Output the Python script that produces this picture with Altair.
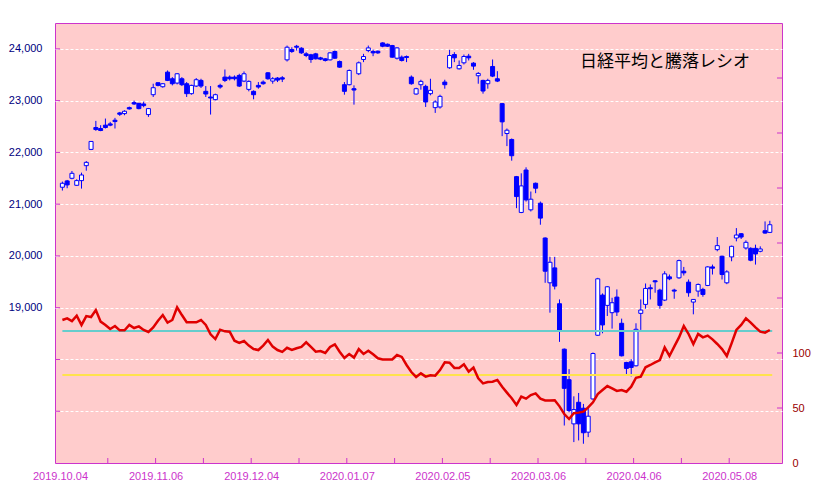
import altair as alt
import pandas as pd

# ---- Nikkei 225 daily OHLC (index 0 = 2019.10.04) ----
opens = [21327,21449,21500,21365,21455,21744,22058,22481,22462,22526,
         22551,22622,22763,22750,22865,22962,22949,22936,22731,23115,
         23346,23269,23551,23423,23340,23423,23327,23135,23282,23391,
         23180,23070,23019,23295,23455,23455,23455,23487,23378,23218,
         23180,23295,23359,23538,23378,23436,23442,23788,23987,24051,
         24013,23904,23885,23904,23827,23808,23788,23949,23756,23308,
         23308,23231,23519,23795,23968,23949,23955,24115,24090,24064,
         23820,23840,23852,23455,23128,23308,23276,23135,22865,22878,
         23359,23635,23891,23615,23731,23859,23724,23481,23391,23327,
         23660,23423,22942,22365,22250,21532,20840,21660,20891,21404,
         21019,20346,19481,19769,19077,18199,17609,16756,17173,17058,
         16596,17237,18468,19244,19045,18904,19205,18699,17942,17955,
         17878,18891,19064,19385,19520,19340,19147,19596,19340,19577,
         19705,19494,19109,19321,19353,19430,19788,20122,19994,19481,
         19981,20346,20429,20154,20147,20147,20090,20487,20455]
highs = [21436,21468,21641,21481,21609,21833,22218,22609,22526,22654,
         22590,22667,22782,22814,22885,23000,22955,22981,22859,23327,
         23352,23340,23583,23455,23532,23455,23359,23308,23436,23423,
         23282,23282,23135,23327,23602,23487,23487,23519,23564,23391,
         23199,23359,23391,23551,23455,23455,23474,24064,24032,24077,
         24032,23936,23904,23923,23846,23820,23936,23968,23776,23359,
         23602,23295,23756,23904,24064,23987,23968,24128,24103,24077,
         24032,23872,23872,23487,23250,23404,23308,23423,23006,23115,
         23404,23981,23936,23776,23891,23904,23744,23551,23404,23423,
         23795,23570,22955,22462,22269,21545,21596,21712,21244,21417,
         21051,20359,19981,19981,19160,18212,17814,17288,17353,17141,
         17096,18135,19577,19276,19417,19192,19353,18789,17955,18006,
         18699,19160,19468,19449,19530,19366,19705,19641,19366,19929,
         19788,19545,19165,19468,19385,19801,19833,20365,20006,19724,
         20199,20538,20442,20301,20167,20218,20186,20667,20679]
lows = [21263,21308,21481,21353,21301,21647,22045,22417,22410,22462,
        22506,22462,22705,22718,22827,22917,22833,22872,22686,23070,
        23276,23250,23378,23295,23314,23282,23071,23115,23263,23244,
        23071,22731,23006,23231,23359,23391,23391,23263,23359,23180,
        23026,23231,23308,23404,23327,23359,23359,23756,23923,23968,
        23904,23840,23731,23795,23782,23756,23776,23808,23635,23115,
        23295,22923,23494,23744,23936,23859,23904,24032,24039,23827,
        23795,23756,23744,23308,23115,23212,22878,23103,22763,22846,
        23231,23615,23744,23602,23699,23776,23596,23327,23135,23231,
        23455,23359,22314,22122,21840,20923,20827,21051,20859,21212,
        20603,19481,18904,19353,18340,16724,16981,16404,16436,16372,
        16500,17224,18455,18506,18840,18596,18840,18058,17718,17673,
        17865,18571,18981,19160,19289,18981,19128,19532,19173,19558,
        19622,19212,18872,19212,19212,19417,19641,20090,19545,19455,
        19897,20282,20327,20122,19897,19833,20071,20429,20442]
closes = [21404,21372,21596,21455,21564,21808,22212,22442,22423,22481,
          22526,22596,22737,22795,22840,22936,22846,22904,22846,23250,
          23295,23327,23391,23327,23519,23308,23135,23295,23404,23282,
          23128,23051,23115,23263,23391,23423,23423,23282,23519,23372,
          23115,23263,23327,23423,23423,23397,23416,24032,23949,24032,
          23923,23872,23795,23808,23801,23776,23923,23820,23647,23180,
          23583,23205,23731,23852,24019,23923,23923,24051,24051,23840,
          24019,23776,23833,23327,23231,23372,22974,23199,22974,23083,
          23308,23872,23827,23679,23853,23827,23667,23526,23186,23391,
          23474,23378,22590,22429,21936,21147,21353,21083,21096,21308,
          20731,19705,19878,19417,18564,17442,17013,17032,16756,16584,
          16904,18115,19558,18667,19404,19096,18917,18071,17827,17846,
          18583,18955,19372,19366,19500,19045,19654,19558,19321,19910,
          19673,19289,19160,19449,19256,19788,19763,20199,19641,19692,
          20186,20404,20365,20263,19917,20038,20135,20442,20603]

# ---- 騰落レシオ (right axis) ----
ratio = [130,131.5,129,134,125.5,133.6,132.7,139,128.5,125.5,
         121.8,124.5,120.6,120.6,125.5,122.7,124.2,120.9,119.1,123.3,
         129.4,134.5,127.6,130,141.5,134.5,127.9,127.9,127.9,130,
         125.5,117,112.7,121.2,119.7,119.4,111.2,109.1,110.9,106.7,
         103.6,102.7,106.7,111.8,105.8,102.7,101,104.7,102.8,104.3,
         105.6,109.7,105.5,101.2,101.8,100,105.5,107.9,101.2,95.5,
         99.1,95.8,103.6,99.1,102.1,98.8,95.2,94.2,94.2,94.2,
         98.2,96.4,89.1,82.7,78.2,81.5,78.5,79.7,79.4,84.5,
         91.5,91.2,86.4,86.4,89.7,83,86.7,77,72.4,73.6,
         73.9,75.5,69.4,64,58.8,52.7,60.3,58.5,61.8,63.3,
         58.5,56.8,56.8,57,51.5,44.5,40,45.2,45.8,46.7,
         50.6,55.2,62.7,66.4,70,67.9,65.5,66.4,64.8,69.4,
         77.5,78.5,87,89.1,91.5,93.6,105.1,97.3,105.8,114.2,
         124.5,117.3,108.2,117.3,114.2,115.8,112.4,108.2,103.6,97.3,
         108.8,120.9,125.5,131.5,127.6,123.3,119.4,118.5,120.9]

tick_idx = [10, 20, 30, 40, 50, 60, 70, 80, 90, 100, 110, 120, 130, 140]
label_idx = [0, 20, 40, 60, 80, 100, 120, 140]
label_text = ['2019.10.04', '2019.11.06', '2019.12.04', '2020.01.07',
              '2020.02.05', '2020.03.06', '2020.04.06', '2020.05.08']
price_ticks = [17000, 18000, 19000, 20000, 21000, 22000, 23000, 24000]
ratio_ticks = [0, 50, 100, 150, 200, 250, 300, 350]
ref_levels = [120, 80]
ref_colors = ['#66CCCC', '#FFE24D']
title_text = '日経平均と騰落レシオ'

W, H = 727, 440
n = len(closes)
MAG = '#CC33CC'
BLUE = '#0000FF'

df = pd.DataFrame({
    'x': [i + 0.5 for i in range(n)],
    'open': opens, 'high': highs, 'low': lows, 'close': closes,
    'ratio': ratio,
})
df['dir'] = ['up' if c >= o else 'down' for o, c in zip(opens, closes)]

label_expr = "''"
for i, t in reversed(list(zip(label_idx, label_text))):
    label_expr = f"datum.value == {i} ? '{t}' : ({label_expr})"

xscale = alt.Scale(domain=[0, 150], nice=False, zero=False)
xaxis = alt.Axis(values=label_idx, labelExpr=label_expr, domain=False, ticks=False,
                 tickSize=0, grid=False, labelColor=MAG, labelFontSize=11,
                 labelPadding=7, title=None, labelFlush=False)
X = alt.X('x:Q', scale=xscale, axis=xaxis)

price_scale = alt.Scale(domain=[16000, 24500], nice=False, zero=False)
price_axis = alt.Axis(values=price_ticks, orient='left',
                      labelExpr="datum.value >= 19000 ? format(datum.value, ',') : ''",
                      grid=True, gridColor='#FFFFFF', gridDash=[3, 2], gridWidth=1,
                      domain=False, ticks=False, tickSize=0, labelColor='#000080',
                      labelFontSize=11, labelPadding=13, title=None)

ratio_scale = alt.Scale(domain=[0, 400], nice=False, zero=True)
ratio_axis = alt.Axis(values=ratio_ticks, orient='right',
                      labelExpr="datum.value <= 100 ? datum.label : ''",
                      grid=False, domain=False, ticks=False, tickSize=0,
                      labelColor='#990000', labelFontSize=11, labelPadding=10, title=None)

wick = alt.Chart(df).mark_rule(color=BLUE, strokeWidth=1).encode(
    x=X, y=alt.Y('low:Q', scale=price_scale, axis=price_axis), y2='high:Q')
body = alt.Chart(df).mark_bar(size=4, stroke=BLUE, strokeWidth=1).encode(
    x=X, y=alt.Y('open:Q', scale=price_scale, axis=price_axis), y2='close:Q',
    fill=alt.Fill('dir:N', scale=alt.Scale(domain=['up', 'down'], range=['#FFFFFF', BLUE]),
                  legend=None))

xt = alt.Chart(pd.DataFrame({'t': tick_idx})).mark_rule(color=MAG, strokeWidth=1).encode(
    x=alt.X('t:Q', scale=xscale, axis=xaxis), y=alt.value(H - 5), y2=alt.value(H))
lt = alt.Chart(pd.DataFrame({'v': price_ticks})).mark_rule(color=MAG, strokeWidth=1).encode(
    y=alt.Y('v:Q', scale=price_scale, axis=price_axis), x=alt.value(0), x2=alt.value(5))

price_layer = alt.layer(wick, body, xt, lt)

ref_df = pd.DataFrame({'level': ref_levels, 'color': ref_colors,
                       'x0': [df['x'].iloc[0]] * len(ref_levels),
                       'x1': [df['x'].iloc[-1] + 0.5] * len(ref_levels)})
refs = alt.Chart(ref_df).mark_rule(strokeWidth=2).encode(
    x=alt.X('x0:Q', scale=xscale, axis=xaxis), x2='x1:Q',
    y=alt.Y('level:Q', scale=ratio_scale, axis=ratio_axis),
    color=alt.Color('color:N', scale=None))
red = alt.Chart(df).mark_line(color='#E00000', strokeWidth=2.5).encode(
    x=X, y=alt.Y('ratio:Q', scale=ratio_scale, axis=ratio_axis))
rt = alt.Chart(pd.DataFrame({'v': ratio_ticks[1:]})).mark_rule(color=MAG, strokeWidth=1).encode(
    y=alt.Y('v:Q', scale=ratio_scale, axis=ratio_axis), x=alt.value(W - 5), x2=alt.value(W))
title = alt.Chart(pd.DataFrame({'t': [title_text]})).mark_text(
    align='left', baseline='middle', font='Noto Sans CJK JP', fontSize=17, color='#000000'
).encode(x=alt.value(525), y=alt.value(39), text='t:N')

ratio_layer = alt.layer(refs, red, rt, title)

chart = alt.layer(price_layer, ratio_layer).resolve_scale(y='independent').properties(
    width=W, height=H,
    autosize=alt.AutoSizeParams(type='none'),
    padding={'left': 47, 'top': 15, 'right': 35, 'bottom': 30},
    background='#FFFFFF',
).configure_view(
    fill='#FFCCCC', stroke=MAG, strokeWidth=1
).configure_axis(
    labelFont='Liberation Sans'
)

chart.save('out.html', embed_options={'renderer': 'svg', 'actions': False})
